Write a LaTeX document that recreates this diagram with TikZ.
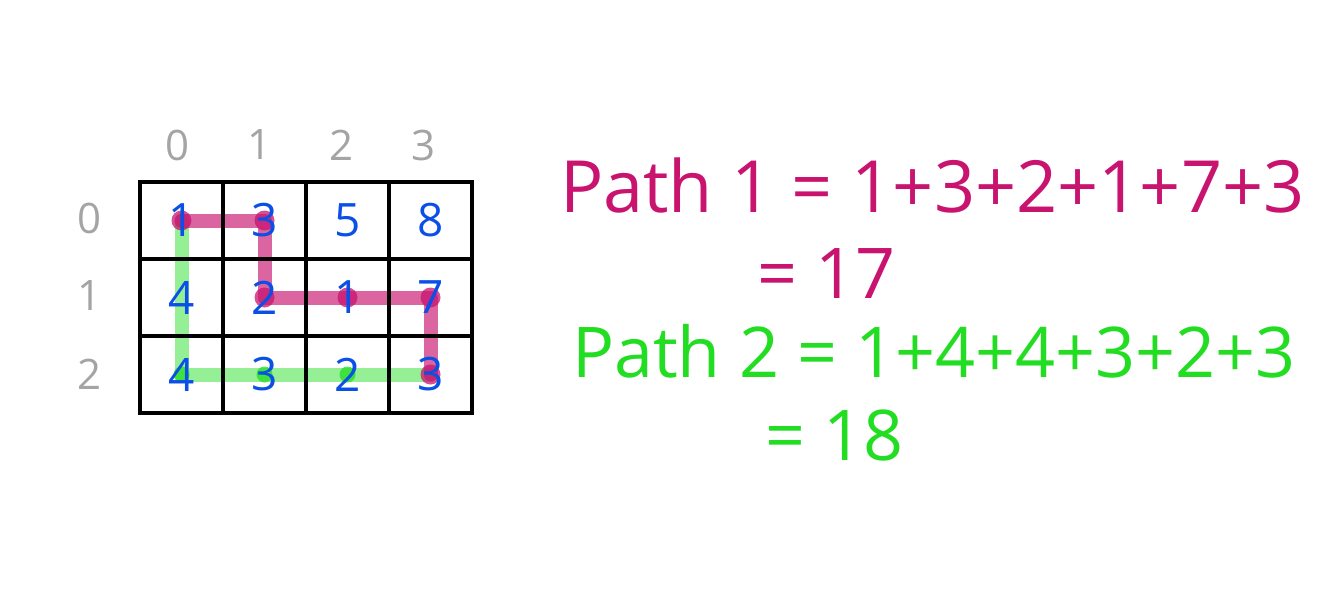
\documentclass[tikz,border=0pt]{standalone}
\usepackage{fontspec}
\setmainfont{Open Sans}
\usetikzlibrary{backgrounds}
\definecolor{cellblue}{HTML}{0A50E6}
\definecolor{idxgray}{HTML}{A4A4A4}
\definecolor{pathpink}{HTML}{C8136F}
\definecolor{pathgreen}{HTML}{22DD22}
\tikzset{
  cell/.style={draw=black, line width=4.5pt, minimum width=83pt, minimum height=77pt,
    inner sep=0pt, text=cellblue, font=\fontsize{46}{46}\selectfont},
  idx/.style={text=idxgray, font=\fontsize{42}{42}\selectfont},
  route/.style={line width=14pt, line cap=round, line join=round, opacity=0.6},
  blob/.style={fill=#1, opacity=0.75},
  sumtext/.style={anchor=base west, inner sep=0pt, font=\fontsize{70}{70}\selectfont},
}
\begin{document}
\begin{tikzpicture}[x=1pt, y=-1pt]
  \useasboundingbox (0,0) rectangle (1328,589);
  % grid
  \foreach \vals [count=\r from 0] in {{1,3,5,8},{4,2,1,7},{4,3,2,3}}
    \foreach \v [count=\c from 0] in \vals
      \node[cell] (c\r\c) at (181.5+83*\c, 220.5+77*\r) {\v};
  \foreach \c in {0,...,3}
    \node[idx] (col\c) at (178+82*\c, 145) {\c};
  \foreach \r in {0,...,2}
    \node[idx] (row\r) at (90, 218+78*\r) {\r};
  % paths
  \begin{scope}[on background layer]
    \draw[route, pathgreen!80!white] (c00.center) -- (c10.center) -- (c20.center)
      -- (c21.center) -- (c22.center) -- (c23.center);
    \draw[route, pathpink, opacity=0.65] (c00.center) -- (c01.center) -- (c11.center)
      -- (c12.center) -- (c13.center) -- (c23.center);
    \foreach \n in {c00,c01,c11,c12,c13,c23}
      \fill[blob=pathpink] (\n.center) circle (10pt);
    \foreach \n in {c20,c21,c22}
      \fill[blob=pathgreen] (\n.center) circle (8pt);
  \end{scope}
  % sums
  \node[sumtext, text=pathpink, font=\fontsize{72}{72}\selectfont] (sum1) at (560, 212) {Path 1 = 1+3+2+1+7+3};
  \node[sumtext, text=pathpink] (total1) at (757, 298) {= 17};
  \node[sumtext, text=pathgreen] (sum2) at (572, 377) {Path 2 = 1+4+4+3+2+3};
  \node[sumtext, text=pathgreen] (total2) at (765, 460) {= 18};
\end{tikzpicture}
\end{document}
